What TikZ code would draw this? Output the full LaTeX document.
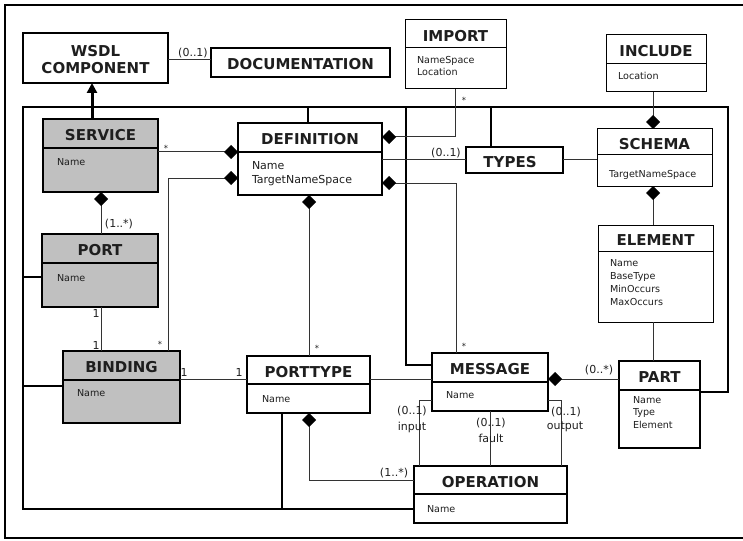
\documentclass[tikz,border=0pt]{standalone}
\usepackage{fontspec}
\setmainfont{DejaVu Sans}
\usetikzlibrary{arrows.meta}

\definecolor{boxgray}{HTML}{C0C0C0}
\definecolor{ink}{HTML}{1E1E1E}
\definecolor{wirecol}{HTML}{333333}

\tikzset{
  every node/.style={inner sep=0pt, outer sep=0pt},
  heavy/.style={draw=black, line width=2pt},
  light/.style={draw=black, line width=1pt},
  classbox/.style={rectangle, draw=black},
  shaded/.style={fill=boxgray},
  ttl/.style={font=\fontsize{15}{17}\selectfont\bfseries, text=ink, align=center},
  attr/.style={text=ink, align=left, anchor=north west},
  mult/.style={font=\fontsize{11}{13}\selectfont, text=ink},
  star/.style={font=\fontsize{8.5}{10}\selectfont, text=ink},
  wire/.style={draw=wirecol, line width=1pt},
  bus/.style={draw=black, line width=2pt, line join=miter},
  comp/.style={wire, -{Diamond[length=14pt,width=14pt,color=black]}},
  gen/.style={draw=black, line width=3pt, -{Triangle[length=10pt,width=10pt]}},
}

% class box: name, x1, y1, x2, y2, divider y, title, box style
\newcommand\umlclass[8]{%
  \node[classbox,#8,minimum width={(#4-#2)*1pt},minimum height={(#5-#3)*1pt}] (#1) at ({(#2+#4)/2},{(#3+#5)/2}) {};
  \draw[#8] (#2,#6) -- (#4,#6);
  \node[ttl] (#1-title) at ({(#2+#4)/2},{(#3+#6)/2+2}) {#7};
}

\begin{document}
\begin{tikzpicture}[x=1pt, y=-1pt]
\useasboundingbox (0,0) rectangle (743,540);

% outer frame
\draw[line width=2pt] (743,5) -| (5,538) -- (743,538);

% plain boxes
\node[classbox, heavy, minimum width=145pt, minimum height=50pt] (wsdl) at (95.5,58) {};
\node[ttl] (wsdl-title) at (95.5,60) {WSDL\\COMPONENT};
\node[classbox, draw=black, line width=1.2pt, minimum width=179pt, minimum height=29pt] (doc) at (300.5,62.5) {};
\node[ttl] (doc-title) at (300.5,64.5) {DOCUMENTATION};
\node[classbox, heavy, minimum width=97pt, minimum height=26pt] (types) at (514.5,160) {};
\node[ttl] (types-title) at (510,162) {TYPES};

% classes
\umlclass{svc}{43}{119}{158}{192}{148}{SERVICE}{heavy,shaded}
\umlclass{port}{42}{234}{158}{307}{263}{PORT}{heavy,shaded}
\umlclass{bind}{63}{351}{180}{423}{380}{BINDING}{heavy,shaded}
\umlclass{def}{238}{123}{382}{195}{152}{DEFINITION}{heavy}
\umlclass{imp}{405}{20}{506}{89}{48}{IMPORT}{light}
\umlclass{inc}{606}{35}{706}{92}{64}{INCLUDE}{light}
\umlclass{schema}{597}{129}{712}{186}{155}{SCHEMA}{light}
\umlclass{elem}{598}{225}{713}{322}{251}{ELEMENT}{light}
\umlclass{pt}{247}{356}{370}{413}{384}{PORTTYPE}{heavy}
\umlclass{msg}{432}{353}{548}{411}{382}{MESSAGE}{heavy}
\umlclass{part}{619}{361}{700}{448}{390}{PART}{heavy}
\umlclass{op}{414}{466}{567}{523}{494}{OPERATION}{heavy}

% attributes
\node[attr, font=\fontsize{9.6}{12.5}\selectfont] (svc-attr) at (57,159) {Name};
\node[attr, font=\fontsize{9.6}{12.5}\selectfont] (port-attr) at (57,274) {Name};
\node[attr, font=\fontsize{9.6}{12.5}\selectfont] (bind-attr) at (77,389) {Name};
\node[attr, font=\fontsize{11}{14}\selectfont] (def-attr) at (252,161) {Name\\TargetNameSpace};
\node[attr, font=\fontsize{9.6}{12}\selectfont] (imp-attr) at (417,56) {NameSpace\\Location};
\node[attr, font=\fontsize{9.6}{12}\selectfont] (inc-attr) at (618,72) {Location};
\node[attr, font=\fontsize{9.6}{12}\selectfont] (schema-attr) at (609,170) {TargetNameSpace};
\node[attr, font=\fontsize{9.6}{13.3}\selectfont] (elem-attr) at (610,259) {Name\\BaseType\\MinOccurs\\MaxOccurs};
\node[attr, font=\fontsize{9.6}{12.5}\selectfont] (pt-attr) at (262,395) {Name};
\node[attr, font=\fontsize{9.6}{12.5}\selectfont] (msg-attr) at (446,391) {Name};
\node[attr, font=\fontsize{9.6}{12.5}\selectfont] (part-attr) at (633,396) {Name\\Type\\Element};
\node[attr, font=\fontsize{9.6}{12.5}\selectfont] (op-attr) at (427,505) {Name};

% component bus linking every WSDL element
\draw[bus] (part.east |- 0,392) -- (728,392) -- (728,107) -- (23,107) -- (23,509) -- (op.west |- 0,509);
\draw[bus] (23,277) -- (port.west |- 0,277);
\draw[bus] (23,386) -- (bind.west |- 0,386);
\draw[bus] (def.north -| 308,0) -- (308,107);
\draw[bus] (types.north -| 491,0) -- (491,107);
\draw[bus] (406,107) -- (406,365) -- (msg.west |- 0,365);
\draw[bus] (pt.south -| 282,0) -- (282,509);

% generalisation
\draw[gen] (svc.north -| 92,0) -- (wsdl.south -| 92,0);

% associations and compositions
\draw[wire] (wsdl.east |- 0,60) -- (doc.west |- 0,60);
\draw[comp] (svc.east |- 0,152) -- (def.west |- 0,152);
\draw[comp] (bind.north -| 168,0) |- (def.west |- 0,178);
\draw[comp] (imp.south -| 455,0) |- (def.east |- 0,137);
\draw[wire] (def.east |- 0,160) -- (types.west |- 0,160);
\draw[comp] (msg.north -| 456,0) |- (def.east |- 0,183);
\draw[comp] (pt.north -| 309,0) -- (def.south -| 309,0);
\draw[wire] (types.east) -- (schema.west |- types.east);
\draw[comp] (inc.south -| 653,0) -- (schema.north -| 653,0);
\draw[comp] (elem.north -| 653,0) -- (schema.south -| 653,0);
\draw[wire] (elem.south -| 653,0) -- (part.north -| 653,0);
\draw[comp] (part.west |- 0,379) -- (msg.east |- 0,379);
\draw[wire] (bind.east |- 0,379) -- (pt.west |- 0,379);
\draw[wire] (pt.east |- 0,379) -- (msg.west |- 0,379);
\draw[comp] (port.north -| 101,0) -- (svc.south -| 101,0);
\draw[wire] (port.south -| 101,0) -- (bind.north -| 101,0);
\draw[comp] (op.west |- 0,480) -| (pt.south -| 309,0);
\draw[wire] (msg.west |- 0,400) -| (op.north -| 419,0);
\draw[wire] (msg.south -| 490,0) -- (op.north -| 490,0);
\draw[wire] (msg.east |- 0,400) -| (op.north -| 561,0);

% multiplicities and role names
\node[mult] (m-doc) at (193,53) {(0..1)};
\node[star] (m-svc) at (166,148) {*};
\node[mult] (m-port) at (119,224) {(1..*)};
\node[mult] (m-port1) at (96,313) {1};
\node[mult] (m-bind1) at (96,345) {1};
\node[star] (m-bind) at (160,344) {*};
\node[star] (m-pt) at (317,348) {*};
\node[star] (m-msg) at (464,346) {*};
\node[star] (m-imp) at (464,100) {*};
\node[mult] (m-types) at (446,153) {(0..1)};
\node[mult] (m-b1) at (184,372) {1};
\node[mult] (m-p1) at (239,372) {1};
\node[mult] (m-part) at (599,370) {(0..*)};
\node[mult] (m-op) at (394,473) {(1..*)};
\node[mult] (m-in) at (412,411) {(0..1)};
\node[mult] (r-in) at (412,427) {input};
\node[mult] (m-fault) at (491,423) {(0..1)};
\node[mult] (r-fault) at (491,438) {fault};
\node[mult] (m-out) at (566,412) {(0..1)};
\node[mult] (r-out) at (565,427) {output};
\end{tikzpicture}
\end{document}
